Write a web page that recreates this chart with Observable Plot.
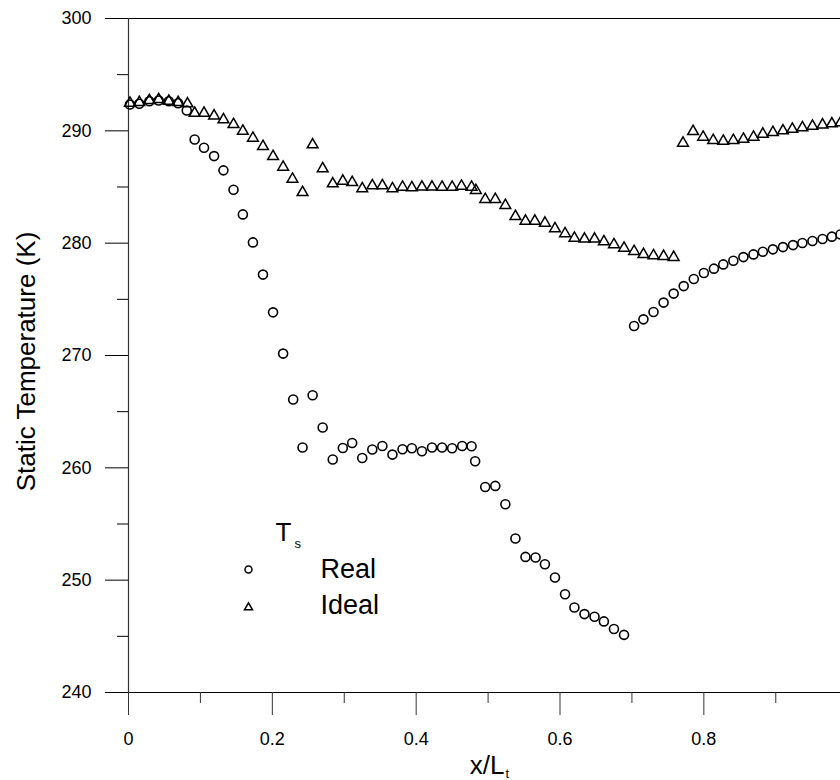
<!DOCTYPE html>
<html><head><meta charset="utf-8">
<script src="https://cdn.jsdelivr.net/npm/d3@7"></script>
<script src="https://cdn.jsdelivr.net/npm/@observablehq/plot@0.6"></script>
<style>
html,body{margin:0;padding:0;background:#fff;overflow:hidden}
#chart svg{display:block}
</style></head><body><div id="chart"></div>
<script>
// Real (circles): x/Lt and static temperature (K)
const xReal = [0.002,0.015,0.029,0.042,0.056,0.069,0.081,0.092,0.105,0.119,0.132,0.146,0.159,0.173,0.187,0.201,0.215,0.229,0.242,0.256,0.270,0.284,0.298,0.311,0.325,0.339,0.353,0.367,0.381,0.394,0.408,0.422,0.436,0.450,0.464,0.477,0.482,0.496,0.510,0.524,0.538,0.552,0.566,0.579,0.593,0.607,0.620,0.634,0.648,0.661,0.675,0.689,0.703,0.716,0.730,0.744,0.758,0.772,0.786,0.800,0.814,0.827,0.841,0.855,0.869,0.882,0.896,0.910,0.924,0.937,0.951,0.965,0.978,0.990];
const tReal = [292.35,292.41,292.64,292.70,292.64,292.46,291.81,289.23,288.50,287.75,286.48,284.76,282.56,280.07,277.20,273.84,270.17,266.08,261.81,266.46,263.59,260.74,261.77,262.21,260.88,261.63,261.95,261.18,261.65,261.74,261.48,261.81,261.81,261.74,261.95,261.92,260.59,258.30,258.39,256.76,253.71,252.07,252.02,251.42,250.24,248.75,247.57,246.98,246.74,246.33,245.65,245.13,272.63,273.22,273.87,274.71,275.51,276.18,276.81,277.34,277.73,278.11,278.44,278.76,279.00,279.24,279.45,279.65,279.83,280.01,280.19,280.37,280.58,280.78];

// Ideal (triangles)
const xIdeal = [0.002,0.015,0.029,0.042,0.056,0.069,0.082,0.092,0.105,0.119,0.132,0.146,0.159,0.173,0.187,0.201,0.215,0.228,0.242,0.256,0.270,0.284,0.298,0.311,0.325,0.339,0.353,0.367,0.381,0.394,0.408,0.422,0.436,0.450,0.463,0.477,0.483,0.496,0.510,0.524,0.538,0.552,0.565,0.579,0.593,0.607,0.620,0.634,0.648,0.661,0.675,0.689,0.703,0.716,0.730,0.744,0.758,0.771,0.785,0.799,0.813,0.827,0.841,0.855,0.869,0.882,0.896,0.910,0.923,0.937,0.951,0.965,0.978,0.990];
const tIdeal = [292.46,292.53,292.70,292.79,292.64,292.53,292.41,291.57,291.57,291.34,290.99,290.57,289.97,289.35,288.61,287.72,286.77,285.70,284.52,288.76,286.63,285.29,285.53,285.41,284.85,285.12,285.12,284.85,284.99,284.94,285.00,285.00,284.99,284.99,285.08,284.99,284.70,283.90,283.90,283.36,282.38,281.97,281.97,281.79,281.29,280.85,280.45,280.37,280.37,280.13,279.87,279.56,279.27,279.00,278.89,278.83,278.74,288.91,289.95,289.44,289.15,289.08,289.15,289.26,289.44,289.71,289.86,290.01,290.15,290.28,290.42,290.54,290.63,290.72];

// Ticks and labels
const xMajor = [0, 0.2, 0.4, 0.6, 0.8];
const xMinor = [0.1, 0.3, 0.5, 0.7, 0.9];
const yMajor = [240, 250, 260, 270, 280, 290, 300];
const yMinor = [245, 255, 265, 275, 285, 295];
const xTitle = "x/L";
const xTitleSub = "t";
const yTitle = "Static Temperature (K)";
const legendTitle = "T";
const legendTitleSub = "s";
const seriesNames = ["Real", "Ideal"];

const real = xReal.map((x, i) => ({x, t: tReal[i]}));
const ideal = xIdeal.map((x, i) => ({x, t: tIdeal[i]}));

const FONT = "'Liberation Sans', Arial, Helvetica, sans-serif";

const chart = Plot.plot({
  width: 840,
  height: 780,
  marginLeft: 128,
  marginRight: 0,
  marginTop: 18,
  marginBottom: 88,
  style: {fontFamily: FONT, background: "white", color: "black"},
  x: {domain: [0, 0.99]},
  y: {domain: [240, 300]},
  marks: [
    Plot.ruleY([300], {stroke: "black", strokeWidth: 1}),
    Plot.ruleY([240], {stroke: "black", strokeWidth: 1}),
    Plot.ruleX([0], {stroke: "#333", strokeWidth: 1.2}),
    Plot.axisY(yMajor, {tickSize: 23, tickPadding: 14, fontSize: 18, label: null, tickFormat: d => String(d)}),
    Plot.axisY(yMinor, {tickSize: 11, label: null, tickFormat: () => ""}),
    Plot.axisX(xMajor, {tickSize: 23, tickPadding: 17, fontSize: 18, label: null, stroke: "#333", tickFormat: d => String(d)}),
    Plot.axisX(xMinor, {tickSize: 11, label: null, stroke: "#333", tickFormat: () => ""}),
    // axis titles
    Plot.text([yTitle], {frameAnchor: "left", text: d => d, textAnchor: "middle", lineAnchor: "middle", rotate: -90, dx: -102, dy: 6, fontSize: 26}),
    Plot.text([xTitle], {frameAnchor: "bottom", text: d => d, textAnchor: "end", lineAnchor: "bottom", dx: 20, dy: 81, fontSize: 26}),
    Plot.text([xTitleSub], {frameAnchor: "bottom", text: d => d, textAnchor: "start", lineAnchor: "bottom", dx: 21, dy: 85, fontSize: 13}),
    // data
    Plot.dot(ideal, {x: "x", y: "t", symbol: "triangle", r: 4, fill: "none", stroke: "black", strokeWidth: 1.5}),
    Plot.dot(real, {x: "x", y: "t", symbol: "circle", r: 4.5, fill: "none", stroke: "black", strokeWidth: 1.6}),
    // legend
    Plot.text([legendTitle], {frameAnchor: "top-left", text: d => d, textAnchor: "start", lineAnchor: "bottom", dx: 147, dy: 522, fontSize: 26}),
    Plot.text([legendTitleSub], {frameAnchor: "top-left", text: d => d, textAnchor: "start", lineAnchor: "bottom", dx: 166, dy: 529, fontSize: 13}),
    Plot.dot([seriesNames[0]], {frameAnchor: "top-left", dx: 120, dy: 551, symbol: "circle", r: 3.5, fill: "none", stroke: "black", strokeWidth: 1.5}),
    Plot.dot([seriesNames[1]], {frameAnchor: "top-left", dx: 120, dy: 589, symbol: "triangle", r: 3, fill: "none", stroke: "black", strokeWidth: 1.5}),
    Plot.text([seriesNames[0]], {frameAnchor: "top-left", text: d => d, textAnchor: "start", lineAnchor: "bottom", dx: 192, dy: 559, fontSize: 27}),
    Plot.text([seriesNames[1]], {frameAnchor: "top-left", text: d => d, textAnchor: "start", lineAnchor: "bottom", dx: 192, dy: 595, fontSize: 27})
  ]
});
document.getElementById("chart").appendChild(chart);
</script>
</body></html>
